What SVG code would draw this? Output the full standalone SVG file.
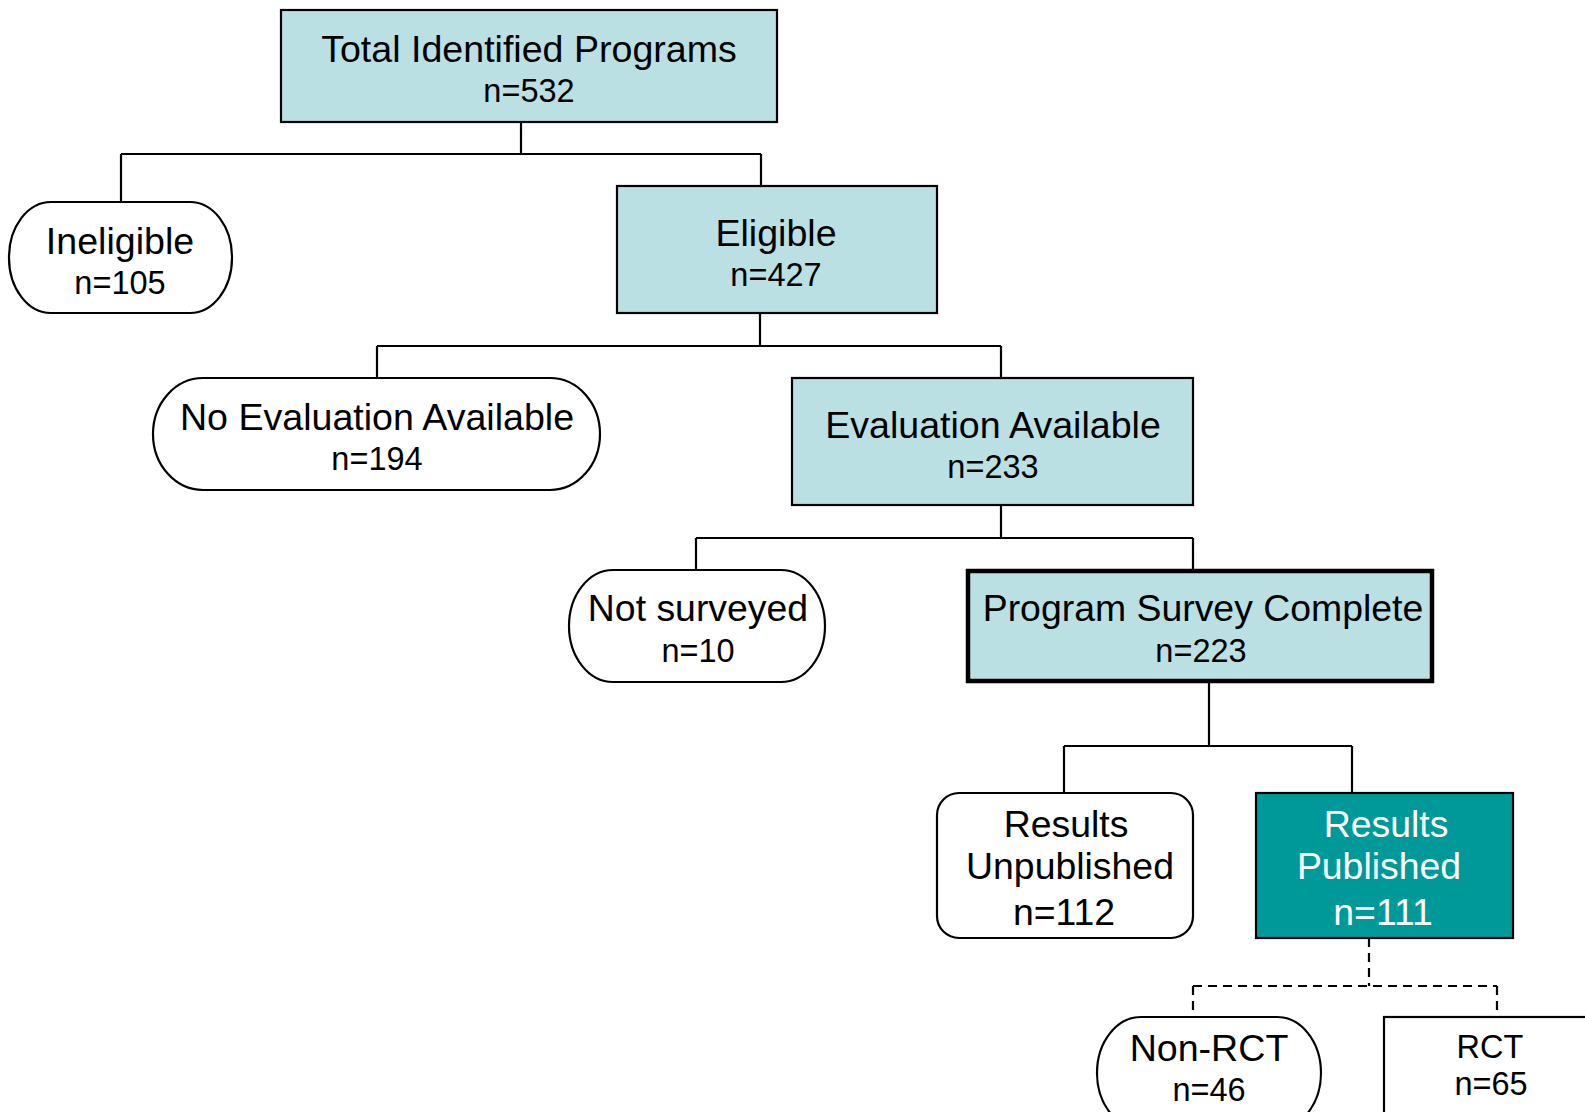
<svg xmlns="http://www.w3.org/2000/svg" width="1585" height="1112" viewBox="0 0 1585 1112">
<style>
text{font-family:"Liberation Sans",Arial,sans-serif;text-anchor:middle;fill:#000}
.t{font-size:37.6px}
.n{font-size:32.5px}
.b{font-size:37.4px}
.w{fill:#fff}
.blue{fill:#BAE0E3;stroke:#000;stroke-width:2.2}
.white{fill:#fff;stroke:#000;stroke-width:2.2}
.teal{fill:#009999;stroke:#000;stroke-width:2.2}
.ln{fill:none;stroke:#000;stroke-width:2.2}
.dash{fill:none;stroke:#000;stroke-width:2.2;stroke-dasharray:9 6}
</style>
<rect width="1585" height="1112" fill="#fff"/>
<g id="connectors">
<path class="ln" d="M521 122V154M121 154H761M121 154V202M761 154V186"/>
<path class="ln" d="M760 313V346M377 346H1001M377 346V378M1001 346V378"/>
<path class="ln" d="M1001 505V538M696 538H1193M696 538V570M1193 538V570"/>
<path class="ln" d="M1209 682V746M1064 746H1352M1064 746V793M1352 746V793"/>
<path class="dash" d="M1369 938V986M1193 986H1497M1193 986V1017M1497 986V1017"/>
</g>
<g id="total">
<rect class="blue" x="281" y="10" width="496" height="112"/>
<text class="t" x="529" y="62">Total Identified Programs</text>
<text class="n" x="529" y="102">n=532</text>
</g>
<g id="ineligible">
<rect class="white" x="9" y="202" width="223" height="111" rx="42" ry="55"/>
<text class="t" x="120" y="254">Ineligible</text>
<text class="n" x="120" y="294">n=105</text>
</g>
<g id="eligible">
<rect class="blue" x="617" y="186" width="320" height="127"/>
<text class="t" x="776" y="246">Eligible</text>
<text class="n" x="776" y="286">n=427</text>
</g>
<g id="no-eval">
<rect class="white" x="153" y="378" width="447" height="112" rx="50" ry="56"/>
<text class="t" x="377" y="430">No Evaluation Available</text>
<text class="n" x="377" y="470">n=194</text>
</g>
<g id="eval">
<rect class="blue" x="792" y="378" width="401" height="127"/>
<text class="t" x="993" y="438">Evaluation Available</text>
<text class="n" x="993" y="478">n=233</text>
</g>
<g id="not-surveyed">
<rect class="white" x="569" y="570" width="256" height="112" rx="44" ry="56"/>
<text class="b" x="698" y="621">Not surveyed</text>
<text class="n" x="698" y="662">n=10</text>
</g>
<g id="survey-complete">
<rect class="blue" x="968" y="571" width="464" height="110" style="stroke-width:4.5"/>
<text class="b" x="1203" y="621">Program Survey Complete</text>
<text class="n" x="1201" y="662">n=223</text>
</g>
<g id="unpublished">
<rect class="white" x="937" y="793" width="256" height="145" rx="22" ry="22"/>
<text class="b" x="1066" y="837">Results</text>
<text class="b" x="1070" y="879">Unpublished</text>
<text class="b" x="1064" y="925">n=112</text>
</g>
<g id="published">
<rect class="teal" x="1256" y="793" width="257" height="145"/>
<text class="b w" x="1386" y="837">Results</text>
<text class="b w" x="1379" y="879">Published</text>
<text class="b w" x="1383" y="925">n=111</text>
</g>
<g id="non-rct">
<rect class="white" x="1097" y="1017" width="224" height="112" rx="44" ry="56"/>
<text class="t" x="1209" y="1061">Non-RCT</text>
<text class="n" x="1209" y="1101">n=46</text>
</g>
<g id="rct">
<rect class="white" x="1384" y="1017" width="230" height="120"/>
<text class="n" x="1490" y="1058">RCT</text>
<text class="n" x="1491" y="1095">n=65</text>
</g>
</svg>
